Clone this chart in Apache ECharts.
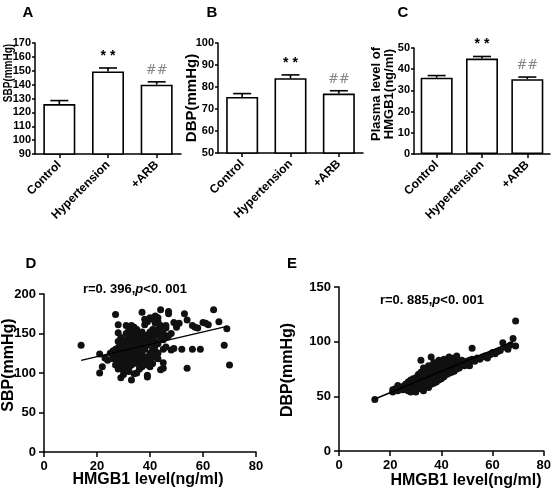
<!DOCTYPE html>
<html><head><meta charset="utf-8">
<script src="https://cdn.jsdelivr.net/npm/echarts@6/dist/echarts.min.js"></script>
<style>html,body{margin:0;padding:0;background:#fff}#c{width:554px;height:491px}</style>
</head><body><div id="c"></div>
<script>
const categories = ['Control', 'Hypertension', '+ARB'];
const sbpMean = [126, 149.5, 140];
const sbpErr = [128.5, 152, 142];
const dbpMean = [75.5, 84, 77];
const dbpErr = [77, 85.5, 78.3];
const hmgbMean = [36, 45, 35.3];
const hmgbErr = [37, 46, 36.3];
const notes = ['', '* *', '##'];
const rTextD = 'r=0. 396,';
const rTextE = 'r=0. 885,';

const scatterD = [[14,135],[21,124],[21,100],[22,108],[23,119],[24,116],[26,122],[27,174],[27,130],[28,161],[28,151],[28,140],[29,94],[29,106],[29,112],[30,125],[30,98],[31,160],[32,106],[33,91],[33,157],[34,99],[35,100],[36,110],[37,177],[38,161],[39,97],[39,95],[40,170],[42,172],[44,180],[47,178],[47,175],[49,164],[50,158],[51,163],[53,175],[54,167],[54,106],[52,130],[56,130],[56,160],[57,158],[58,157],[59,130],[60,164],[61,163],[62,161],[64,180],[66,165],[68,135],[69,156],[70,110],[45,130],[46,133],[45,113],[45,106],[44,104],[43,118],[48,129],[49,131],[50,160],[46,157],[45,150],[44,160],[43,165],[42,163],[41,155],[40,152],[40,143],[41,147],[42,140],[43,137],[44,150],[46,145],[47,147],[48,150],[45,142],[42,128],[43,125],[41,120],[40,118],[39,135],[38,130],[37,125],[36,120],[35,140],[34,145],[33,138],[32,132],[31,128],[30,120],[29,118],[28,115],[27,120],[26,118],[25,125],[27,110],[28,105],[30,108],[31,112],[32,118],[33,122],[34,115],[35,112],[36,128],[37,135],[38,140],[39,148],[36,150],[35,155],[34,150],[33,147],[32,143],[31,140],[30,137],[29,135],[28,132],[29,128],[30,130],[31,135],[32,125],[33,130],[34,128],[35,133],[36,138],[37,142],[38,145],[39,120],[40,125],[41,130],[37,115],[36,105],[35,118],[34,135],[33,110],[32,102],[31,104],[30,115],[29,122],[32,150],[33,160],[34,158],[36,145],[37,152],[38,120],[39,110],[40,108],[41,112],[42,148],[43,155],[44,145],[45,158],[46,160],[39,165],[38,168],[41,168],[43,170],[35,128],[34,122],[33,117],[31,117],[30,142],[29,145],[28,125],[27,127],[26,128],[31,150],[32,155],[35,147],[36,132],[38,113],[37,108],[42,135],[40,138],[30,103],[33,135],[34,140]];

const scatterE = [[14,47],[21,56],[21,54],[22,57],[23,60],[23,55],[24,57],[25,56],[25,59],[26,58],[26,61],[27,57],[27,60],[27,63],[28,56],[28,59],[28,62],[28,65],[29,57],[29,60],[29,63],[29,66],[30,58],[30,61],[30,64],[30,67],[30,56],[31,59],[31,62],[31,65],[31,68],[31,57],[32,83],[32,60],[32,63],[32,66],[32,69],[32,72],[33,61],[33,64],[33,67],[33,70],[33,58],[34,62],[34,65],[34,68],[34,71],[34,74],[35,63],[35,66],[35,69],[35,72],[35,75],[35,60],[36,86],[36,64],[36,67],[36,70],[36,73],[36,76],[37,65],[37,68],[37,71],[37,74],[37,78],[38,66],[38,69],[38,72],[38,75],[38,79],[39,68],[39,71],[39,74],[39,77],[39,81],[40,70],[40,73],[40,76],[40,79],[40,82],[41,71],[41,74],[41,77],[41,80],[42,73],[42,76],[42,79],[42,82],[43,74],[43,77],[43,80],[43,83],[44,75],[44,78],[44,81],[44,84],[45,76],[45,79],[45,82],[45,85],[46,78],[46,81],[46,84],[47,79],[47,82],[47,76],[48,80],[48,83],[49,81],[49,78],[50,82],[50,79],[51,78],[51,83],[52,94],[52,84],[53,82],[54,85],[55,84],[56,86],[57,87],[58,85],[59,88],[60,90],[61,89],[62,91],[63,92],[64,99],[65,95],[66,93],[67,97],[68,103],[69,119],[69,96],[34,60],[33,55],[35,58],[36,61],[37,62],[38,63],[39,65],[40,66],[41,68],[30,54],[29,55],[28,54],[27,55],[44,72],[45,73],[46,75],[43,71],[42,70],[31,70],[33,76],[35,78],[37,81],[39,83],[41,84],[43,86],[46,87]];

const trendD = [[14,116],[69,159]];
const trendE = [[14,47.6],[68,100]];

const FONT = '"Liberation Sans", Arial, sans-serif';
const chart = echarts.init(document.getElementById('c'), null, {renderer: 'canvas'});

function barY(idx, min, max, interval) {
  return {gridIndex: idx, type: 'value', min, max, interval,
    axisLine: {show: true, lineStyle: {color: '#000', width: 1.5}},
    axisTick: {show: true, length: 3, lineStyle: {color: '#000', width: 1.5}},
    axisLabel: {color: '#000', fontWeight: 'bold', fontSize: 11, fontFamily: FONT, margin: 4},
    splitLine: {show: false}};
}
function barX(idx) {
  return {gridIndex: idx, type: 'category', data: categories,
    axisLine: {show: true, lineStyle: {color: '#000', width: 1.5}},
    axisTick: {show: true, alignWithLabel: true, length: 4, lineStyle: {color: '#000', width: 1.5}},
    axisLabel: {color: '#000', fontWeight: 'bold', fontSize: 12, fontFamily: FONT, rotate: 45, margin: 9, interval: 0}};
}
function valAxis(idx, min, max, interval, fs) {
  return {gridIndex: idx, type: 'value', min, max, interval,
    axisLine: {show: true, onZero: false, lineStyle: {color: '#000', width: 1.5}},
    axisTick: {show: true, length: 5, lineStyle: {color: '#000', width: 1.5}},
    axisLabel: {color: '#000', fontWeight: 'bold', fontSize: fs, fontFamily: FONT, margin: 8},
    splitLine: {show: false}};
}
function barSeries(idx, data) {
  return {type: 'bar', xAxisIndex: idx, yAxisIndex: idx, data, barWidth: 32,
    itemStyle: {color: '#fff', borderColor: '#000', borderWidth: 1.6}, z: 2};
}
function errSeries(idx, mean, err) {
  const data = mean.map((m, i) => [i, m, err[i]]);
  return {type: 'custom', xAxisIndex: idx, yAxisIndex: idx, z: 3, data,
    encode: {x: 0, y: [1, 2]},
    renderItem: function (params, api) {
      const i = api.value(0);
      const top = api.coord([i, api.value(1)]);
      const hi = api.coord([i, api.value(2)]);
      const cap = 9;
      const children = [
        {type: 'line', shape: {x1: top[0], y1: top[1], x2: hi[0], y2: hi[1]}, style: {stroke: '#000', lineWidth: 1.6}},
        {type: 'line', shape: {x1: hi[0] - cap, y1: hi[1], x2: hi[0] + cap, y2: hi[1]}, style: {stroke: '#000', lineWidth: 1.6}}
      ];
      const n = notes[i];
      if (n) {
        const isHash = n === '##';
        children.push({type: 'text', style: {text: n, x: hi[0], y: hi[1] - 5,
          align: 'center', verticalAlign: 'bottom', textAlign: 'center', textVerticalAlign: 'bottom',
          fill: isHash ? '#888' : '#000',
          font: isHash ? '13px "DejaVu Serif", serif' : 'bold 14px ' + FONT}});
      }
      return {type: 'group', children};
    }};
}
function txt(x, y, text, font, rot, sy) {
  return {type: 'text', x, y, rotation: rot || 0, scaleY: sy || 1,
    style: {text, font, fill: '#000', align: 'center', verticalAlign: 'middle', textAlign: 'center', textVerticalAlign: 'middle', lineHeight: 13}};
}
function rtxt(x, y, head) {
  return {type: 'text', x, y,
    style: {text: '{a|' + head + '}{i|p}{a|<0. 001}', align: 'center', verticalAlign: 'middle', textAlign: 'center', textVerticalAlign: 'middle',
      rich: {a: {fontFamily: FONT, fontWeight: 'bold', fontSize: 13, fill: '#000', color: '#000'},
             i: {fontFamily: FONT, fontWeight: 'bold', fontStyle: 'italic', fontSize: 13, fill: '#000', color: '#000'}}}};
}

const option = {
  animation: false,
  backgroundColor: '#fff',
  grid: [
    {left: 35, top: 43, width: 146, height: 111},
    {left: 218, top: 43, width: 145, height: 110},
    {left: 414, top: 48, width: 136, height: 106},
    {left: 44, top: 294, width: 212, height: 158},
    {left: 339, top: 287, width: 208, height: 164}
  ],
  xAxis: [barX(0), barX(1), barX(2), valAxis(3, 0, 80, 20, 13), valAxis(4, 0, 80, 20, 13)],
  yAxis: [barY(0, 90, 170, 10), barY(1, 50, 100, 10), barY(2, 0, 50, 10), valAxis(3, 0, 200, 50, 13), valAxis(4, 0, 150, 50, 13)],
  series: [
    barSeries(0, sbpMean), errSeries(0, sbpMean, sbpErr),
    barSeries(1, dbpMean), errSeries(1, dbpMean, dbpErr),
    barSeries(2, hmgbMean), errSeries(2, hmgbMean, hmgbErr),
    {type: 'scatter', xAxisIndex: 3, yAxisIndex: 3, data: scatterD, symbolSize: 7, itemStyle: {color: '#111', opacity: 1}},
    {type: 'line', xAxisIndex: 3, yAxisIndex: 3, data: trendD, symbol: 'none', lineStyle: {color: '#000', width: 1.5}, z: 3},
    {type: 'scatter', xAxisIndex: 4, yAxisIndex: 4, data: scatterE, symbolSize: 7, itemStyle: {color: '#111', opacity: 1}},
    {type: 'line', xAxisIndex: 4, yAxisIndex: 4, data: trendE, symbol: 'none', lineStyle: {color: '#000', width: 1.5}, z: 3}
  ],
  graphic: [
    txt(28, 13, 'A', 'bold 15px ' + FONT),
    txt(212, 13, 'B', 'bold 15px ' + FONT),
    txt(403, 13, 'C', 'bold 15px ' + FONT),
    txt(31, 264, 'D', 'bold 15px ' + FONT),
    txt(292, 264, 'E', 'bold 15px ' + FONT),
    txt(9, 73, 'SBP(mmHg)', 'bold 10px ' + FONT, Math.PI / 2, 1.2),
    txt(192, 98, 'DBP(mmHg)', 'bold 15px ' + FONT, Math.PI / 2),
    txt(383, 94, 'Plasma level of\nHMGB1(ng/ml)', 'bold 13px ' + FONT, Math.PI / 2),
    txt(9, 365, 'SBP(mmHg)', 'bold 16px ' + FONT, Math.PI / 2),
    txt(288, 370, 'DBP(mmHg)', 'bold 16px ' + FONT, Math.PI / 2),
    txt(148, 480, 'HMGB1 level(ng/ml)', 'bold 16px ' + FONT),
    txt(466, 481, 'HMGB1 level(ng/ml)', 'bold 16px ' + FONT),
    rtxt(135, 289, rTextD),
    rtxt(432, 300, rTextE)
  ]
};
chart.setOption(option);
</script></body></html>
